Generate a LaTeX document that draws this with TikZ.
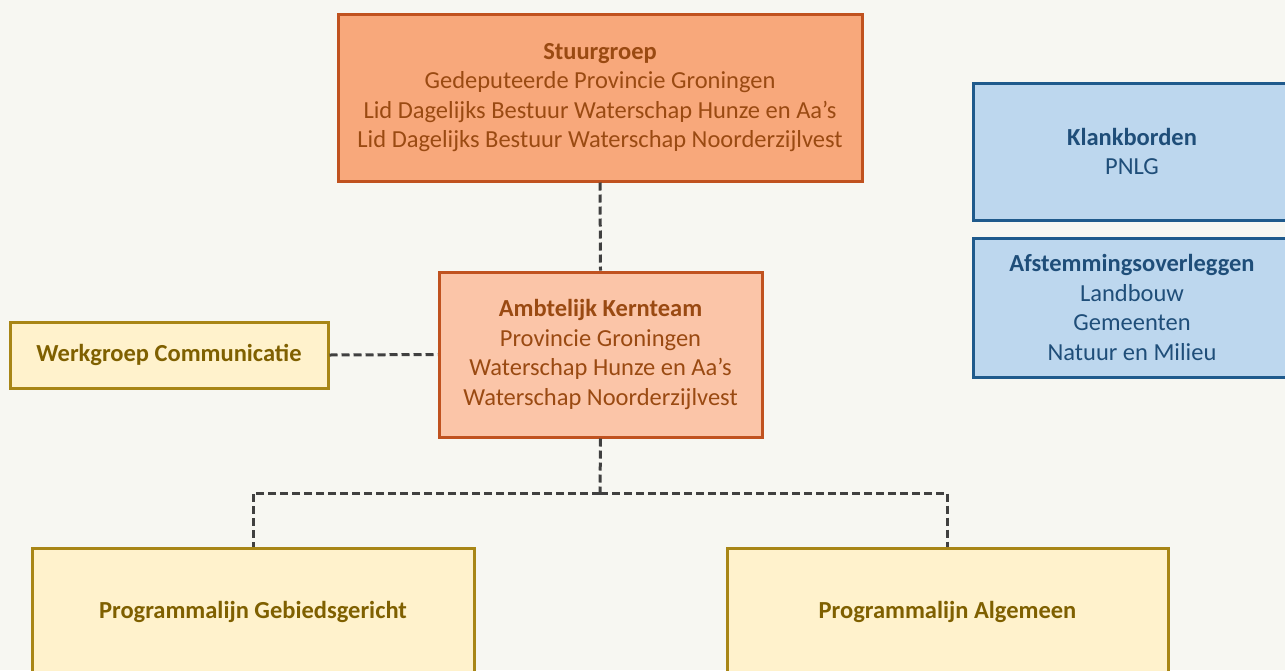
\documentclass[tikz,border=0pt]{standalone}
\usepackage{fontspec}
\setmainfont{Carlito}
\usetikzlibrary{positioning}

\definecolor{bgcol}{HTML}{F7F7F2}
\definecolor{orfill}{HTML}{F8A87B}
\definecolor{orlight}{HTML}{FBC5A8}
\definecolor{orline}{HTML}{C0521F}
\definecolor{ortext}{HTML}{9A4A12}
\definecolor{yefill}{HTML}{FFF2CC}
\definecolor{yeline}{HTML}{A88616}
\definecolor{yetext}{HTML}{7F6000}
\definecolor{blfill}{HTML}{BDD7EE}
\definecolor{blline}{HTML}{1F5A8C}
\definecolor{bltext}{HTML}{1F4E79}
\definecolor{dashcol}{HTML}{404040}

\tikzset{
  box/.style={draw,line width=3pt,align=center,inner sep=0pt,
    font=\fontsize{24.5}{29.5}\selectfont},
  orbox/.style={box,fill=orfill,draw=orline,text=ortext},
  orlightbox/.style={box,fill=orlight,draw=orline,text=ortext},
  yebox/.style={box,fill=yefill,draw=yeline,text=yetext},
  blbox/.style={box,fill=blfill,draw=blline,text=bltext},
  link/.style={draw=dashcol,line width=3pt,dash pattern=on 8pt off 4pt}
}

\begin{document}
\begin{tikzpicture}[x=1pt,y=-1pt]
\fill[bgcol] (0,0) rectangle (1285,670);
\clip (0,0) rectangle (1285,670);

\node[orbox,minimum width=524pt,minimum height=167pt] (stuur) at (600,97.5)
  {\textbf{Stuurgroep}\\Gedeputeerde Provincie Groningen\\Lid Dagelijks Bestuur Waterschap Hunze en Aa’s\\Lid Dagelijks Bestuur Waterschap Noorderzijlvest};
\node[orlightbox,minimum width=323pt,minimum height=165pt] (kern) at (600.5,354.5)
  {\textbf{Ambtelijk Kernteam}\\Provincie Groningen\\Waterschap Hunze en Aa’s\\Waterschap Noorderzijlvest};
\node[yebox,minimum width=318pt,minimum height=66pt] (werk) at (169,355)
  {\textbf{Werkgroep Communicatie}};
\node[blbox,minimum width=318pt,minimum height=137pt] (klank) at (1132,151.5)
  {\textbf{Klankborden}\\PNLG};
\node[blbox,minimum width=318pt,minimum height=139pt] (afst) at (1132,307.5)
  {\textbf{Afstemmingsoverleggen}\\Landbouw\\Gemeenten\\Natuur en Milieu};
\node[yebox,minimum width=442pt,minimum height=128pt] (gebied) at (253,612)
  {\textbf{Programmalijn Gebiedsgericht}};
\node[yebox,minimum width=441pt,minimum height=128pt] (algem) at (947.5,612)
  {\textbf{Programmalijn Algemeen}};

\coordinate (split) at (600,493);
\draw[link] (stuur.south) -- (kern.north);
\draw[link] (werk.east) -- (kern.west);
\draw[link] (kern.south) -- (split);
\draw[link] (split) -| (gebied.north);
\draw[link] (split) -| (algem.north);
\end{tikzpicture}
\end{document}
